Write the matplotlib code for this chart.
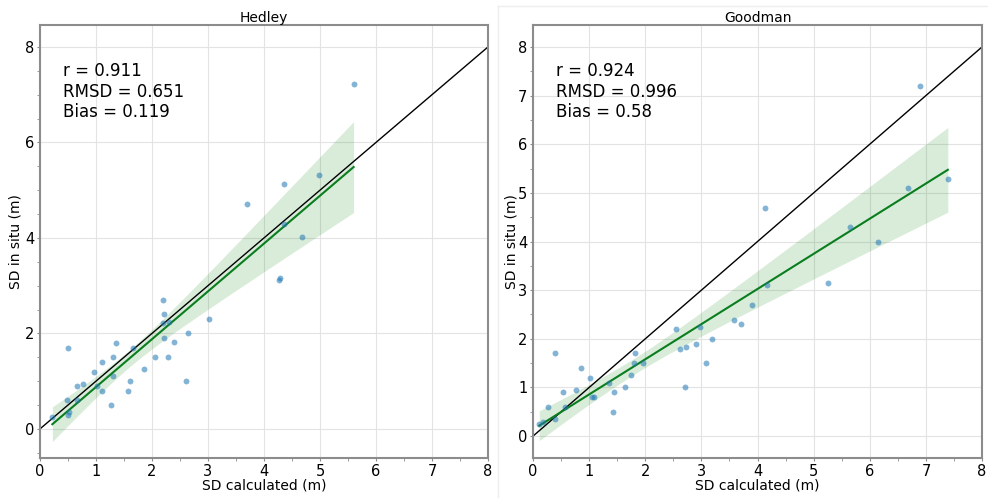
import matplotlib.pyplot as plt
import numpy as np
from matplotlib.ticker import MultipleLocator
from matplotlib.lines import Line2D

# Hedley panel: SD calculated vs SD in situ
hedley_x = [5.60, 4.99, 4.36, 3.70, 4.35, 4.67, 4.29, 4.27, 2.20, 2.22,
            3.01, 2.20, 2.30, 2.64, 2.22, 2.39, 1.35, 0.50, 1.66, 2.05,
            2.29, 1.30, 1.10, 1.86, 0.96, 1.30, 2.60, 1.60, 0.76, 0.66,
            1.02, 1.11, 1.58, 0.49, 0.66, 1.27, 0.52, 0.50, 0.22]
hedley_y = [7.22, 5.31, 5.12, 4.71, 4.29, 4.01, 3.16, 3.11, 2.70, 2.41,
            2.30, 2.21, 2.23, 2.00, 1.90, 1.83, 1.80, 1.70, 1.70, 1.50,
            1.50, 1.50, 1.40, 1.25, 1.20, 1.10, 1.00, 1.00, 0.95, 0.90,
            0.90, 0.80, 0.80, 0.60, 0.60, 0.50, 0.35, 0.29, 0.24]

# Goodman panel
goodman_x = [6.90, 7.39, 6.68, 4.14, 5.64, 6.15, 5.25, 4.17, 3.90, 3.58,
             3.70, 2.54, 2.97, 3.19, 2.91, 2.72, 2.62, 0.40, 1.81, 3.08,
             1.79, 1.96, 0.86, 1.74, 1.02, 1.36, 2.70, 1.64, 0.77, 0.53,
             1.44, 1.05, 1.08, 0.26, 0.57, 1.43, 0.40, 0.17, 0.11]
goodman_y = [7.20, 5.29, 5.09, 4.69, 4.29, 4.00, 3.14, 3.10, 2.69, 2.39,
             2.30, 2.20, 2.25, 2.00, 1.90, 1.83, 1.79, 1.70, 1.70, 1.50,
             1.50, 1.50, 1.40, 1.25, 1.20, 1.10, 1.00, 1.00, 0.95, 0.90,
             0.90, 0.80, 0.80, 0.60, 0.60, 0.50, 0.35, 0.30, 0.25]

titles = ["Hedley", "Goodman"]
stats = ["r = 0.911\nRMSD = 0.651\nBias = 0.119",
         "r = 0.924\nRMSD = 0.996\nBias = 0.58"]


def fit_band(x, y):
    # linear fit with a 95% band (HC3 sandwich errors)
    x = np.asarray(x)
    y = np.asarray(y)
    X = np.column_stack([np.ones_like(x), x])
    bread = np.linalg.inv(X.T @ X)
    beta = bread @ X.T @ y
    e = y - X @ beta
    h = np.einsum("ij,jk,ik->i", X, bread, X)
    meat = X.T @ (X * (e ** 2 / (1 - h) ** 2)[:, None])
    cov = bread @ meat @ bread
    xg = np.linspace(x.min(), x.max(), 100)
    G = np.column_stack([np.ones_like(xg), xg])
    yg = G @ beta
    se = np.sqrt(np.einsum("ij,jk,ik->i", G, cov, G))
    return xg, yg, yg - 1.96 * se, yg + 1.96 * se


fig = plt.figure(figsize=(9.88, 4.98), dpi=100)
ax1 = fig.add_axes([0.0405, 0.0803, 0.4534, 0.8695])
ax2 = fig.add_axes([0.5395, 0.0803, 0.4545, 0.8695])

# faint frame around the second panel
fig.add_artist(Line2D([498 / 988, 498 / 988], [0, 492 / 498],
                      color="#eeeeee", lw=1))
fig.add_artist(Line2D([498 / 988, 1], [492 / 498, 492 / 498],
                      color="#eeeeee", lw=1))

data = [(hedley_x, hedley_y), (goodman_x, goodman_y)]
ylims = [(-0.61, 8.46), (-0.45, 8.45)]
ymajor = [2, 1]
ylab_x = [-0.038, -0.033]

for ax, (x, y), title, txt, yl, ym, lx in zip([ax1, ax2], data, titles,
                                             stats, ylims, ymajor, ylab_x):
    ax.grid(True, color="#e3e3e3", lw=0.8, zorder=0)
    ax.plot([0, 8], [0, 8], color="black", lw=1, zorder=2)
    xg, yg, lo, hi = fit_band(x, y)
    ax.fill_between(xg, lo, hi, color="green", alpha=0.15, lw=0, zorder=1)
    ax.plot(xg, yg, color="#0a7d1e", lw=1.5, zorder=3)
    ax.scatter(x, y, s=18, color="#1f77b4", alpha=0.55, lw=0, zorder=4)
    ax.text(0.051, 0.915, txt, transform=ax.transAxes, fontsize=12,
            va="top", ha="left")
    ax.set_xlim(0, 8)
    ax.set_ylim(*yl)
    ax.xaxis.set_major_locator(MultipleLocator(1))
    ax.xaxis.set_minor_locator(MultipleLocator(0.5))
    ax.yaxis.set_major_locator(MultipleLocator(ym))
    ax.yaxis.set_minor_locator(MultipleLocator(0.5))
    ax.set_axisbelow(True)
    for s in ax.spines.values():
        s.set_color("#8c8c8c")
        s.set_linewidth(1.5)
    ax.tick_params(which="both", colors="#8c8c8c", labelcolor="black",
                   labelsize=10.5, pad=1.5)
    ax.tick_params(which="major", length=2.5)
    ax.tick_params(which="minor", length=2)
    ax.set_title(title, fontsize=10, pad=2)
    ax.set_xlabel("SD calculated (m)", fontsize=10, labelpad=0)
    ax.set_ylabel("SD in situ (m)", fontsize=10)
    ax.yaxis.set_label_coords(lx, 0.5)

fig.savefig("out.png", dpi=100)
